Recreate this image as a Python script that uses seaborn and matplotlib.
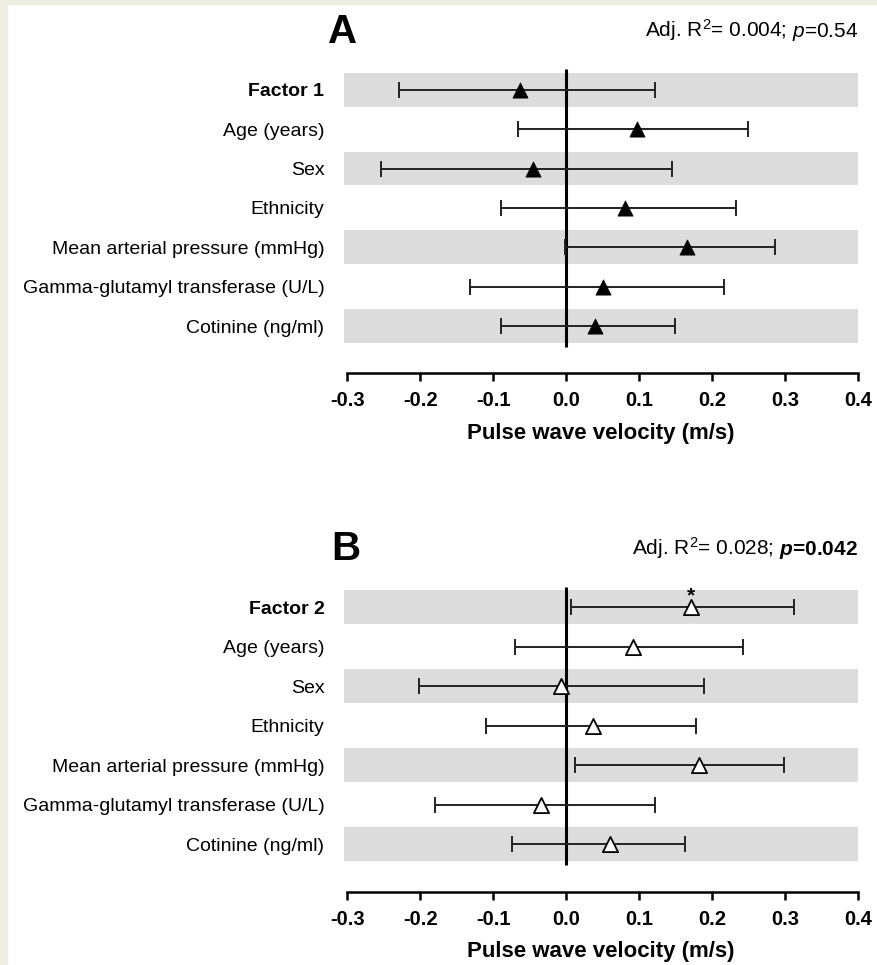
import numpy as np
import pandas as pd
import seaborn as sns
import matplotlib.pyplot as plt
from matplotlib.patches import Rectangle
from matplotlib.ticker import FormatStrFormatter

# =========================
# DATA
# =========================
labels_a = ["Factor 1", "Age (years)", "Sex", "Ethnicity",
            "Mean arterial pressure (mmHg)", "Gamma-glutamyl transferase (U/L)",
            "Cotinine (ng/ml)"]
est_a = [-0.063, 0.097, -0.045, 0.081, 0.166, 0.050, 0.039]
lo_a = [-0.229, -0.066, -0.254, -0.089, -0.002, -0.132, -0.090]
hi_a = [0.121, 0.249, 0.145, 0.233, 0.286, 0.216, 0.149]

labels_b = ["Factor 2", "Age (years)", "Sex", "Ethnicity",
            "Mean arterial pressure (mmHg)", "Gamma-glutamyl transferase (U/L)",
            "Cotinine (ng/ml)"]
est_b = [0.171, 0.091, -0.007, 0.037, 0.182, -0.035, 0.060]
lo_b = [0.006, -0.071, -0.202, -0.110, 0.012, -0.180, -0.075]
hi_b = [0.312, 0.242, 0.188, 0.177, 0.298, 0.121, 0.163]

stats_a = ("Adj. R$^2$= 0.004;", "$p$=0.54")
stats_b = ("Adj. R$^2$= 0.028;", r"$\mathbfit{p}$=0.042")
star_rows_b = [0]

x_ticks = [-0.3, -0.2, -0.1, 0.0, 0.1, 0.2, 0.3, 0.4]
x_label = "Pulse wave velocity (m/s)"

# =========================
# STYLE
# =========================
sns.set_theme(style="white")
plt.rcParams["font.family"] = ["Liberation Sans", "DejaVu Sans"]
plt.rcParams["axes.unicode_minus"] = False
plt.rcParams["text.color"] = "black"
plt.rcParams["axes.labelcolor"] = "black"
plt.rcParams["xtick.color"] = "black"
plt.rcParams["ytick.color"] = "black"
plt.rcParams["mathtext.fontset"] = "custom"
plt.rcParams["mathtext.rm"] = "Liberation Sans"
plt.rcParams["mathtext.it"] = "Liberation Sans:italic"
plt.rcParams["mathtext.bf"] = "Liberation Sans:bold"
plt.rcParams["mathtext.bfit"] = "Liberation Sans:italic:bold"

W, H = 878, 965
fig = plt.figure(figsize=(W / 100, H / 100), dpi=100)
fig.patch.set_facecolor("white")
border = "#efeee3"
fig.patches.append(Rectangle((0, 0), 7 / W, 1, transform=fig.transFigure,
                             color=border, zorder=0))
fig.patches.append(Rectangle((0, 1 - 4 / H), 1, 4 / H, transform=fig.transFigure,
                             color=border, zorder=0))


def draw_panel(ax, labels, est, lo, hi, filled, star_rows=()):
    n = len(labels)
    df = pd.DataFrame({"row": np.arange(n), "est": est, "lo": lo, "hi": hi})

    # alternating grey bands
    for r in df["row"][::2]:
        ax.axhspan(r - 0.43, r + 0.43, color="#dcdcdc", lw=0, zorder=0)

    ax.vlines(0, -0.52, n - 0.48, color="black", lw=2.2, zorder=2)

    ax.errorbar(df["est"], df["row"],
                xerr=[df["est"] - df["lo"], df["hi"] - df["est"]],
                fmt="none", ecolor="#222222", elinewidth=1.4,
                capsize=5.5, capthick=1.4, zorder=3)

    sns.scatterplot(data=df, x="est", y="row", marker="^", s=120,
                    color="black" if filled else "white",
                    edgecolor="black", linewidth=1.3 if not filled else 0.5,
                    legend=False, zorder=4, ax=ax)

    for r in star_rows:
        ax.text(df["est"][r], r - 0.3, "*", ha="center", va="center",
                fontsize=15, fontweight="bold")

    ax.set_xlim(-0.305, 0.397)
    ax.set_ylim(7.2, -0.52)
    ax.set_yticks(df["row"], labels)
    ax.get_yticklabels()[0].set_fontweight("bold")
    ax.tick_params(axis="y", length=0, pad=14, labelsize=14)

    ax.set_xticks(x_ticks)
    ax.xaxis.set_major_formatter(FormatStrFormatter("%.1f"))
    ax.tick_params(axis="x", direction="out", length=6, width=1.8,
                   labelsize=14.5, pad=7, bottom=True, color="black")
    for t in ax.get_xticklabels():
        t.set_fontweight("bold")

    for s in ["left", "top", "right"]:
        ax.spines[s].set_visible(False)
    ax.spines["bottom"].set_linewidth(1.8)
    ax.spines["bottom"].set_color("black")
    ax.spines["bottom"].set_bounds(-0.3, 0.4)

    ax.set_xlabel(x_label, fontsize=16, fontweight="bold", labelpad=9)
    ax.set_ylabel("")
    ax.set_facecolor("none")


left = 343.7 / W
width = 514.6 / W
ax_a = fig.add_axes([left, 1 - 373.3 / H, width, 304 / H])
ax_b = fig.add_axes([left, 1 - 891.7 / H, width, 305 / H])

draw_panel(ax_a, labels_a, est_a, lo_a, hi_a, filled=True)
draw_panel(ax_b, labels_b, est_b, lo_b, hi_b, filled=False, star_rows=star_rows_b)

# panel letters
fig.text(343 / W, 1 - 43 / H, "A", ha="center", va="baseline",
         fontsize=29, fontweight="heavy")
fig.text(346 / W, 1 - 560 / H, "B", ha="center", va="baseline",
         fontsize=29, fontweight="heavy")

# model statistics, right aligned with the bands
fig.canvas.draw()
renderer = fig.canvas.get_renderer()
for (plain, pval), y_px, bold in [(stats_a, 37, False), (stats_b, 555, True)]:
    t2 = fig.text(858 / W, 1 - y_px / H, pval, ha="right", va="baseline",
                  fontsize=15, fontweight="bold" if bold else "normal")
    bb = t2.get_window_extent(renderer)
    fig.text((bb.x0 - 5) / W, 1 - y_px / H, plain, ha="right", va="baseline",
             fontsize=15)

fig.savefig("out.png", dpi=100, facecolor=fig.get_facecolor())
